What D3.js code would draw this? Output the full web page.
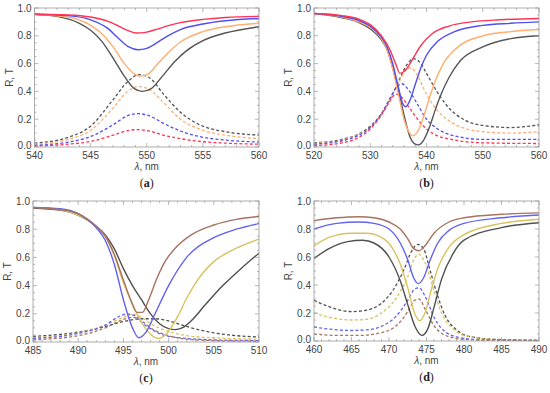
<!DOCTYPE html>
<html>
<head>
<meta charset="utf-8">
<script src="https://cdn.jsdelivr.net/npm/d3@7"></script>
<style>
  body { margin: 0; background: #fff; }
  svg { display: block; }
  .tick-label { font-family: "Liberation Sans", Arial, sans-serif; font-size: 10px; fill: #444; }
  .axis-title { font-family: "Liberation Sans", Arial, sans-serif; font-size: 10px; fill: #444; }
  .panel-label { font-family: "Liberation Serif", "Times New Roman", serif; font-size: 12px; fill: #222; }
</style>
</head>
<body>
<script>
// Panel (a): lambda 540-560 nm
const aR = {
  red:    [[540,0.955],[543,0.95],[545,0.935],[546.5,0.905],[547.5,0.87],[548.4,0.835],[549.1,0.82],[549.9,0.825],[551,0.85],[552,0.875],[553,0.895],[555,0.918],[557,0.932],[560,0.94]],
  blue:   [[540,0.955],[543,0.945],[545,0.915],[546.5,0.855],[547.5,0.78],[548.4,0.72],[549.2,0.70],[550,0.71],[551,0.755],[552,0.805],[553,0.845],[555,0.885],[557,0.908],[560,0.925]],
  orange: [[540,0.955],[543,0.935],[545,0.875],[546,0.815],[547,0.72],[548,0.6],[548.9,0.525],[549.5,0.51],[550.2,0.53],[551,0.6],[552,0.685],[553,0.755],[555,0.83],[557,0.865],[560,0.89]],
  gray:   [[540,0.955],[542,0.94],[544,0.89],[545,0.84],[546,0.76],[547,0.64],[548,0.51],[548.9,0.42],[549.6,0.40],[550.4,0.42],[551.4,0.51],[552.5,0.615],[553.5,0.69],[555,0.765],[557,0.82],[560,0.865]]
};
const aT = {
  red:    [[540,0.008],[543,0.02],[545,0.04],[547,0.085],[548.3,0.118],[549.2,0.125],[550.2,0.115],[551.5,0.085],[553,0.06],[555,0.038],[557,0.028],[560,0.02]],
  blue:   [[540,0.012],[543,0.035],[545,0.075],[547,0.16],[548.3,0.225],[549.2,0.24],[550.2,0.225],[551.5,0.17],[553,0.115],[555,0.07],[557,0.05],[560,0.035]],
  orange: [[540,0.02],[543,0.055],[545,0.12],[547,0.28],[548.3,0.4],[549.2,0.435],[550.2,0.415],[551.5,0.32],[553,0.2],[555,0.12],[557,0.085],[560,0.06]],
  gray:   [[540,0.028],[543,0.07],[545,0.15],[547,0.34],[548.3,0.47],[549.3,0.52],[550.2,0.5],[551.5,0.38],[553,0.25],[555,0.15],[557,0.11],[560,0.085]]
};

// Panel (b): lambda 520-560 nm
const bR = {
  red:    [[520,0.96],[525,0.945],[528,0.92],[530,0.88],[532,0.8],[533.5,0.7],[534.5,0.6],[535.3,0.53],[536.2,0.55],[537.5,0.63],[539,0.73],[541,0.815],[544,0.87],[548,0.9],[553,0.915],[560,0.925]],
  blue:   [[520,0.96],[525,0.94],[528,0.91],[530,0.87],[532,0.79],[533,0.72],[534,0.6],[535,0.43],[535.7,0.32],[536.3,0.29],[537,0.33],[538,0.45],[539,0.57],[540,0.66],[542,0.76],[545,0.83],[550,0.875],[555,0.89],[560,0.9]],
  orange: [[520,0.96],[525,0.935],[528,0.9],[530,0.86],[532,0.78],[533,0.7],[534,0.56],[535,0.38],[536,0.2],[537,0.1],[537.5,0.08],[538.4,0.11],[539.5,0.22],[540.5,0.35],[541.5,0.47],[543,0.6],[545,0.7],[550,0.8],[555,0.83],[560,0.845]],
  gray:   [[520,0.96],[525,0.93],[528,0.895],[530,0.85],[532,0.77],[533,0.7],[534,0.57],[535,0.41],[536,0.23],[537,0.08],[538,0.02],[538.5,0.015],[539.5,0.05],[540.5,0.14],[541.5,0.26],[542.5,0.37],[544,0.5],[546,0.62],[550,0.72],[555,0.78],[560,0.8]]
};
const bT = {
  red:    [[520,0.01],[525,0.03],[528,0.07],[530,0.13],[532,0.23],[533.5,0.33],[534.5,0.38],[535.5,0.36],[537,0.28],[539,0.17],[541,0.1],[545,0.05],[550,0.03],[560,0.025]],
  blue:   [[520,0.02],[525,0.045],[528,0.085],[530,0.14],[532,0.24],[533.5,0.35],[534.7,0.43],[535.6,0.455],[537,0.4],[538.5,0.3],[540,0.2],[542,0.13],[545,0.08],[550,0.055],[560,0.055]],
  orange: [[520,0.025],[525,0.05],[528,0.09],[530,0.14],[532,0.23],[533.5,0.34],[535,0.46],[536.3,0.55],[537.2,0.57],[538.3,0.52],[540,0.38],[542,0.26],[545,0.165],[550,0.11],[555,0.1],[560,0.11]],
  gray:   [[520,0.03],[525,0.055],[528,0.095],[530,0.15],[532,0.24],[533.5,0.34],[535,0.47],[536.5,0.59],[537.7,0.635],[539,0.6],[540,0.53],[542,0.39],[544,0.28],[547,0.19],[550,0.155],[555,0.14],[560,0.16]]
};

// Panel (c): lambda 485-510 nm
const cR = {
  brown:  [[485,0.955],[488,0.94],[490,0.91],[492,0.82],[493,0.75],[494,0.62],[495,0.44],[495.8,0.3],[496.5,0.21],[497.1,0.21],[497.8,0.3],[498.7,0.45],[499.7,0.58],[500.8,0.67],[502.5,0.76],[505,0.83],[507.5,0.87],[510,0.89]],
  blue:   [[485,0.955],[488,0.945],[490,0.91],[492,0.81],[493,0.72],[494,0.55],[495,0.3],[496,0.1],[496.7,0.03],[497.5,0.07],[498.5,0.2],[500,0.4],[502,0.6],[505,0.74],[507.5,0.8],[510,0.84]],
  yellow: [[485,0.955],[488,0.94],[490,0.9],[492,0.82],[493,0.75],[494,0.61],[495,0.42],[496,0.27],[497,0.14],[498,0.055],[498.9,0.025],[499.8,0.06],[501,0.18],[502,0.31],[503,0.42],[505,0.57],[507,0.65],[510,0.73]],
  gray:   [[485,0.95],[488,0.935],[490,0.9],[492,0.82],[493,0.76],[494,0.66],[495,0.52],[496,0.4],[497,0.3],[498,0.2],[499,0.13],[500,0.095],[500.7,0.088],[501.5,0.1],[502.5,0.15],[504,0.26],[506,0.4],[508,0.52],[510,0.63]]
};
const cT = {
  brown:  [[485,0.015],[490,0.045],[493,0.1],[495,0.16],[496,0.175],[497,0.15],[498,0.1],[500,0.045],[502,0.02],[505,0.01],[510,0.005]],
  blue:   [[485,0.025],[490,0.06],[493,0.12],[494.5,0.18],[495.4,0.2],[496.3,0.185],[497.2,0.13],[498.5,0.075],[500,0.04],[505,0.015],[510,0.01]],
  yellow: [[485,0.03],[490,0.065],[493,0.12],[495,0.175],[496,0.195],[497,0.175],[498,0.13],[500,0.075],[502,0.045],[505,0.03],[510,0.02]],
  gray:   [[485,0.04],[490,0.07],[493,0.11],[495,0.145],[497,0.165],[498.5,0.165],[500,0.15],[502,0.11],[505,0.065],[507.5,0.045],[510,0.035]]
};

// Panel (d): lambda 460-490 nm
const dR = {
  brown:  [[460,0.86],[463,0.88],[466,0.888],[468,0.88],[470,0.85],[471.5,0.8],[472.5,0.73],[473.3,0.66],[474,0.645],[474.8,0.68],[476,0.77],[478,0.85],[480,0.88],[485,0.905],[490,0.915]],
  blue:   [[460,0.8],[463,0.84],[466,0.85],[468,0.84],[470,0.8],[471.5,0.7],[472.5,0.58],[473.3,0.45],[473.9,0.41],[474.6,0.45],[475.5,0.58],[476.5,0.7],[478,0.79],[480,0.84],[485,0.88],[490,0.9]],
  yellow: [[460,0.68],[462,0.74],[465,0.77],[467,0.77],[469,0.74],[470.5,0.66],[471.5,0.55],[472.5,0.38],[473.4,0.2],[474.1,0.145],[474.8,0.2],[475.6,0.36],[476.6,0.53],[478,0.67],[480,0.76],[485,0.84],[490,0.87]],
  gray:   [[460,0.59],[462,0.66],[464.5,0.71],[466.5,0.72],[468,0.7],[470,0.6],[471.5,0.43],[472.5,0.26],[473.5,0.1],[474.4,0.04],[475.2,0.09],[476,0.24],[477,0.44],[478.5,0.62],[480,0.72],[485,0.81],[490,0.845]]
};
const dT = {
  brown:  [[460,0.05],[463,0.04],[466,0.04],[469,0.06],[471,0.11],[472.5,0.21],[473.4,0.29],[474,0.3],[474.8,0.23],[476,0.11],[477.5,0.04],[480,0.012],[485,0.004],[490,0.003]],
  blue:   [[460,0.1],[462,0.085],[465,0.075],[467,0.08],[469,0.105],[471,0.18],[472.5,0.29],[473.4,0.37],[474,0.38],[474.9,0.31],[476,0.17],[477,0.09],[479,0.03],[482,0.01],[490,0.004]],
  yellow: [[460,0.2],[462,0.17],[465,0.15],[467,0.155],[469,0.2],[471,0.31],[472.5,0.46],[473.4,0.59],[474,0.62],[474.8,0.56],[476,0.36],[477,0.2],[478.5,0.09],[480,0.04],[485,0.008],[490,0.004]],
  gray:   [[460,0.29],[462,0.245],[465,0.21],[467,0.22],[469,0.27],[470.5,0.36],[472,0.51],[473,0.64],[473.8,0.69],[474.6,0.66],[475.5,0.5],[476.5,0.32],[477.5,0.18],[479,0.08],[481,0.03],[485,0.01],[490,0.005]]
};

const xTicksA = [540, 545, 550, 555, 560];
const xTicksB = [520, 530, 540, 550, 560];
const xTicksC = [485, 490, 495, 500, 505, 510];
const xTicksD = [460, 465, 470, 475, 480, 485, 490];
const yTicks = [0, 0.2, 0.4, 0.6, 0.8, 1.0];

const colorsAB = { red: "#ff3355", blue: "#5050f0", orange: "#ffad70", gray: "#555555" };
const colorsCD = { brown: "#a8725e", blue: "#6262f5", yellow: "#d9c25e", gray: "#505050" };

const width = 550, height = 393;
const svg = d3.select("body").append("svg")
  .attr("width", width)
  .attr("height", height);

const panels = [
  { label: "a", box: [34.5, 8, 259, 147], dom: [540, 560], ticks: xTicksA, minor: 1, R: aR, T: aT, colors: colorsAB },
  { label: "b", box: [314, 8, 539, 147], dom: [520, 560], ticks: xTicksB, minor: 2, R: bR, T: bT, colors: colorsAB },
  { label: "c", box: [33, 201, 259, 342], dom: [485, 510], ticks: xTicksC, minor: 1, R: cR, T: cT, colors: colorsCD },
  { label: "d", box: [314, 201, 539, 341], dom: [460, 490], ticks: xTicksD, minor: 1, R: dR, T: dT, colors: colorsCD }
];

panels.forEach(p => {
  const [x0, y0, x1, y1] = p.box;
  const x = d3.scaleLinear().domain(p.dom).range([x0, x1]);
  const y = d3.scaleLinear().domain([0, 1]).range([y1, y0]);
  const g = svg.append("g");

  // clip for curves
  const clipId = "clip-" + p.label;
  svg.append("clipPath").attr("id", clipId)
    .append("rect").attr("x", x0).attr("y", y0 - 1).attr("width", x1 - x0).attr("height", y1 - y0 + 1);

  const line = d3.line()
    .x(d => x(d[0]))
    .y(d => y(d[1]))
    .curve(d3.curveMonotoneX);

  const curves = g.append("g").attr("clip-path", `url(#${clipId})`);
  const keys = Object.keys(p.colors);
  // dashed transmission
  keys.slice().reverse().forEach(k => {
    curves.append("path")
      .attr("d", line(p.T[k]))
      .attr("fill", "none")
      .attr("stroke", p.colors[k])
      .attr("stroke-width", 1.3)
      .attr("stroke-dasharray", "3,2.2");
  });
  // solid reflection
  keys.slice().reverse().forEach(k => {
    curves.append("path")
      .attr("d", line(p.R[k]))
      .attr("fill", "none")
      .attr("stroke", p.colors[k])
      .attr("stroke-width", 1.4);
  });

  // frame
  g.append("rect")
    .attr("x", x0).attr("y", y0)
    .attr("width", x1 - x0).attr("height", y1 - y0)
    .attr("fill", "none")
    .attr("stroke", "#999")
    .attr("stroke-width", 0.8);

  // ticks (inward, all sides)
  const minorX = d3.range(p.dom[0], p.dom[1] + 0.001, p.minor);
  const minorY = d3.range(0, 1.0001, 0.05);
  const tk = g.append("g").attr("stroke", "#999").attr("stroke-width", 0.7);
  minorX.forEach(v => {
    const major = p.ticks.some(t => Math.abs(t - v) < 1e-6);
    const len = major ? 4 : 2;
    tk.append("line").attr("x1", x(v)).attr("x2", x(v)).attr("y1", y1).attr("y2", y1 - len);
    tk.append("line").attr("x1", x(v)).attr("x2", x(v)).attr("y1", y0).attr("y2", y0 + len);
  });
  minorY.forEach(v => {
    const major = yTicks.some(t => Math.abs(t - v) < 1e-6);
    const len = major ? 4 : 2;
    tk.append("line").attr("y1", y(v)).attr("y2", y(v)).attr("x1", x0).attr("x2", x0 + len);
    tk.append("line").attr("y1", y(v)).attr("y2", y(v)).attr("x1", x1).attr("x2", x1 - len);
  });

  // tick labels
  g.selectAll(".xl").data(p.ticks).enter().append("text")
    .attr("class", "tick-label")
    .attr("x", d => x(d)).attr("y", y1 + 12)
    .attr("text-anchor", "middle")
    .text(d => d);
  g.selectAll(".yl").data(yTicks).enter().append("text")
    .attr("class", "tick-label")
    .attr("x", x0 - 3).attr("y", d => y(d) + (d === 0 ? 1.5 : 3.5))
    .attr("text-anchor", "end")
    .text(d => d.toFixed(1));

  // axis titles
  const xt = g.append("text")
    .attr("class", "axis-title")
    .attr("x", (x0 + x1) / 2).attr("y", y1 + 23)
    .attr("text-anchor", "middle");
  xt.append("tspan").attr("font-style", "italic").text("λ");
  xt.append("tspan").text(", nm");

  g.append("text")
    .attr("class", "axis-title")
    .attr("transform", `translate(${x0 - 22},${(y0 + y1) / 2}) rotate(-90)`)
    .attr("text-anchor", "middle")
    .text("R, T");

  // panel label
  const pl = g.append("text")
    .attr("class", "panel-label")
    .attr("x", (x0 + x1) / 2).attr("y", y1 + 40)
    .attr("text-anchor", "middle");
  pl.append("tspan").text("(");
  pl.append("tspan").attr("font-weight", "bold").text(p.label);
  pl.append("tspan").text(")");
});
</script>
</body>
</html>
